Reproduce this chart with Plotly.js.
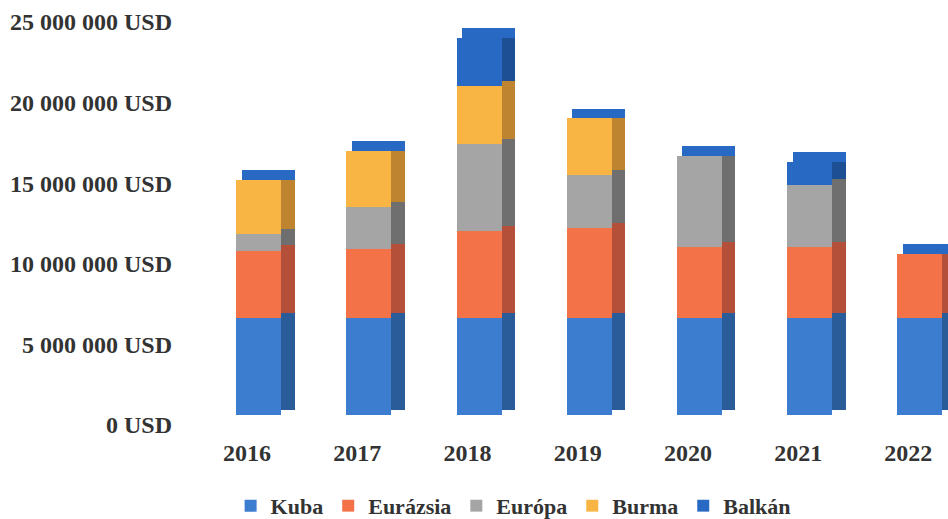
<!DOCTYPE html>
<html>
<head>
<meta charset="utf-8">
<script src="https://cdn.plot.ly/plotly-3.0.1.min.js"></script>
<style>html,body{margin:0;padding:0;background:#fff;}#chart{width:948px;height:519px;}</style>
</head>
<body>
<div id="chart"></div>
<script>
// ---- data (values in USD) ----
const years = ['2016', '2017', '2018', '2019', '2020', '2021', '2022'];
const kuba     = [6000000, 6000000, 6000000, 6000000, 6000000, 6000000, 6000000];
const eurazsia = [4200000, 4300000, 5400000, 5600000, 4400000, 4400000, 4000000];
const europa   = [1000000, 2600000, 5400000, 3300000, 5700000, 3900000, 0];
const burma    = [3400000, 3500000, 3600000, 3500000, 0, 0, 0];
const balkan   = [0, 0, 3000000, 0, 0, 1400000, 0];
const seriesNames = ['Kuba', 'Eurázsia', 'Európa', 'Burma', 'Balkán'];
const yTickVals = [0, 5000000, 10000000, 15000000, 20000000, 25000000];
const yTickText = ['0 USD', '5 000 000 USD', '10 000 000 USD', '15 000 000 USD', '20 000 000 USD', '25 000 000 USD'];

// ---- styles ----
const frontColors = ['#3D7DD0', '#F47248', '#A5A5A5', '#F9B544', '#2869C4'];
const sideColors  = ['#2B5C9A', '#B4503A', '#6F6F6F', '#BF8430', '#1D4F95'];
const FRONT_OFF = -0.10, FRONT_W = 0.41;
const SIDE_OFF = 0.31, SIDE_W = 0.12;
const DEPTH = 320000;      // vertical shift for the side face (3D look)
const CAP_H = 600000;      // height of the top face (3D look)
const CAP_OFF = -0.05, CAP_W = 0.48;

const values = [kuba, eurazsia, europa, burma, balkan];
const traces = [];
let cum = years.map(() => 0);
values.forEach((vals, s) => {
  const bases = cum.slice();
  // side faces (drawn first, behind)
  traces.push({
    type: 'bar', x: years, y: vals, base: bases.map(b => b + DEPTH),
    offset: SIDE_OFF, width: SIDE_W,
    marker: {color: sideColors[s], line: {width: 0}},
    showlegend: false, hoverinfo: 'skip'
  });
  // front faces
  traces.push({
    type: 'bar', name: seriesNames[s], x: years, y: vals, base: bases,
    offset: FRONT_OFF, width: FRONT_W,
    marker: {color: frontColors[s], line: {width: 0}},
    hovertemplate: '%{x}: %{y}<extra>' + seriesNames[s] + '</extra>'
  });
  cum = cum.map((c, i) => c + vals[i]);
});
// top faces
traces.push({
  type: 'bar', x: years, y: years.map(() => CAP_H), base: cum,
  offset: CAP_OFF, width: CAP_W,
  marker: {color: frontColors[4], line: {width: 0}},
  showlegend: false, hoverinfo: 'skip'
});

const font = {family: '"Liberation Serif", "Times New Roman", serif', size: 24, color: '#333333', weight: 'bold'};

const layout = {
  width: 948, height: 519,
  margin: {l: 181, r: 0, t: 4, b: 104, autoexpand: false},
  paper_bgcolor: '#ffffff', plot_bgcolor: '#ffffff',
  barmode: 'overlay',
  bargap: 0,
  showlegend: true,
  font: font,
  xaxis: {
    type: 'category', range: [-0.6, 6.36],
    showgrid: false, zeroline: false, showline: false, ticks: '',
    tickfont: font, ticklabelstandoff: 21
  },
  yaxis: {
    range: [0, 25500000], tickvals: yTickVals, ticktext: yTickText,
    showgrid: false, zeroline: false, showline: false, ticks: '',
    tickfont: font, ticklabelshift: 10, ticklabelstandoff: 8,
    ticklabeloverflow: 'allow'
  },
  legend: {
    orientation: 'h', x: 0.433, xanchor: 'center', y: -0.221, yanchor: 'middle',
    font: Object.assign({}, font, {size: 22}), traceorder: 'normal', itemwidth: 30, tracegroupgap: 0
  }
};

Plotly.newPlot('chart', traces, layout, {displayModeBar: false, staticPlot: true});
</script>
</body>
</html>
